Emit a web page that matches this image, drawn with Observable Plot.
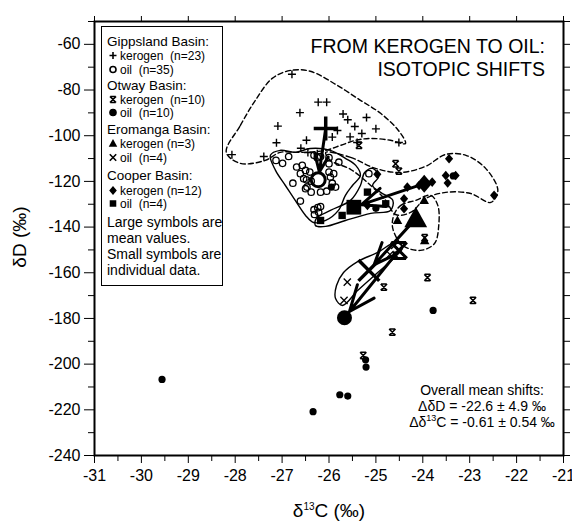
<!DOCTYPE html>
<html><head><meta charset="utf-8">
<script src="https://cdn.jsdelivr.net/npm/d3@7"></script>
<script src="https://cdn.jsdelivr.net/npm/@observablehq/plot@0.6"></script>
<style>
html,body{margin:0;padding:0;background:#fff;}
#wrap{position:relative;width:572px;height:532px;font-family:"Liberation Sans",Arial,sans-serif;color:#000;}
#wrap svg{display:block;}
.abs{position:absolute;white-space:nowrap;}
#legend{position:absolute;left:101px;top:26px;width:122px;height:260px;border:1.5px solid #000;box-sizing:border-box;background:#fff;}
#legend .ln{position:absolute;white-space:pre;transform:translateY(-50%);line-height:11px;height:11px;}
#legend .h{font-size:13.5px;left:5px;}
#legend .i{font-size:12px;left:6px;}
#legend .n{font-size:14px;left:5px;}
#legend svg{vertical-align:-1px;margin-right:2px;display:inline-block;}
</style></head><body>
<div id="wrap"></div>
<script>
// ---------- data: [δ13C, δD] ----------
const gippslandKerogen = [[-26.79,-73.1],[-26.23,-85.3],[-26.05,-85.3],[-26.62,-89.9],[-27.09,-95.8],[-27.12,-103.1],[-26.48,-102.0],[-28.07,-108.3],[-27.39,-109.1],[-25.82,-97.7],[-25.93,-100.6],[-26.45,-107.4],[-26.25,-107.9],[-24.51,-103.0],[-25.6,-93],[-25.45,-96],[-25.3,-99],[-25.55,-100.5],[-25.2,-92],[-25.0,-97],[-25.7,-90.5],[-25.4,-103],[-26.6,-105.5]];
const gippslandOil = [[-27.13,-110.8],[-26.86,-109.1],[-26.25,-109.6],[-26.00,-109.6],[-26.00,-112.3],[-26.69,-113.7],[-26.61,-116.6],[-26.50,-115.2],[-26.41,-115.9],[-26.48,-119.3],[-26.38,-119.9],[-26.77,-120.8],[-26.00,-115.9],[-25.93,-120.8],[-26.50,-123.2],[-26.38,-124.7],[-26.18,-124.7],[-26.05,-124.3],[-26.61,-128.6],[-26.32,-132.4],[-26.24,-131.5],[-26.18,-131.0],[-26.31,-134.5],[-25.86,-122.5],[-25.79,-111.6],[-26.32,-108.6],[-26.57,-113.0],[-25.90,-116.6],[-26.47,-122.5],[-25.15,-116.6],[-26.22,-133.5],[-26.54,-118.8],[-26.99,-112.1],[-25.97,-118.1],[-26.18,-109.1]];
const otwayKerogen = [[-25.36,-104.2],[-24.58,-112.3],[-24.51,-115.5],[-23.96,-144.7],[-24.83,-166.3],[-24.65,-186.0],[-25.27,-196.2],[-23.90,-162.1],[-22.93,-172.1],[-24.58,-152.4]];
const otwayOil = [[-29.56,-206.7],[-26.34,-220.8],[-25.77,-213.4],[-25.60,-214.0],[-25.22,-198.1],[-25.21,-201.3],[-23.78,-176.5],[-25.95,-122.5],[-25.0,-131.8],[-23.35,-117.6]];
const eromangaKerogen = [[-24.54,-137.1],[-23.97,-128.3],[-23.96,-145.9]];
const eromangaOil = [[-25.61,-164.1],[-25.68,-172.1],[-24.6,-148],[-24.7,-152]];
const cooperKerogen = [[-24.97,-116.9],[-23.44,-110.1],[-23.51,-117.4],[-23.30,-117.4],[-23.47,-120.7],[-22.48,-126.1],[-24.40,-127.6],[-24.40,-132.0],[-24.33,-122.5],[-23.80,-120.3],[-24.08,-121.8],[-25.18,-130.5]];
const cooperOil = [[-25.18,-124.7],[-24.79,-129.8],[-25.72,-134.9],[-26.18,-137.1]];

// mean values (large symbols)
const basins = ["Gippsland","Otway","Eromanga","Cooper"];
const meanKerogen = [[-26.07,-96.8],[-24.51,-150.2],[-24.15,-136.3],[-23.97,-121.0]];
const meanOil = [[-26.23,-119.3],[-25.67,-179.7],[-25.15,-159.0],[-25.47,-131.3]];

// outlines (dashed = kerogen, solid = oil)
const gippslandKerogenEnvelope = [[-28.19,-107.3],[-27.89,-95.5],[-27.57,-84.5],[-27.21,-74.9],[-26.82,-71.4],[-26.40,-71.8],[-25.86,-77.5],[-25.33,-84.5],[-24.90,-90.2],[-24.52,-97.7],[-24.37,-103.4],[-24.69,-102.0],[-25.11,-101.2],[-25.43,-102.0],[-25.75,-104.2],[-26.07,-106.4],[-26.61,-107.3],[-27.04,-107.3],[-27.36,-110.8],[-27.89,-112.1]];
const gippslandOilEnvelope = [[-27.25,-108.6],[-27.04,-106.4],[-26.72,-107.3],[-26.40,-105.6],[-25.97,-106.4],[-25.65,-109.9],[-25.43,-113.0],[-25.33,-117.4],[-25.50,-121.8],[-25.65,-126.1],[-25.80,-132.7],[-26.07,-137.1],[-26.33,-138.0],[-26.50,-134.9],[-26.72,-128.3],[-26.93,-121.8],[-27.14,-115.2]];
const cooperOilEnvelope = [[-26.27,-136.2],[-25.97,-132.7],[-25.54,-128.3],[-25.33,-121.8],[-25.24,-116.1],[-25.07,-114.3],[-24.94,-117.8],[-25.07,-121.8],[-24.90,-124.8],[-24.64,-128.3],[-24.69,-132.7],[-25.11,-134.0],[-25.65,-137.1],[-26.07,-139.7],[-26.29,-139.3]];
const cooperKerogenEnvelope = [[-26.07,-107.3],[-25.54,-109.5],[-25.01,-114.3],[-24.47,-116.1],[-23.94,-113.4],[-23.51,-108.2],[-23.08,-108.6],[-22.66,-114.3],[-22.40,-124.0],[-22.55,-129.2],[-22.98,-125.3],[-23.51,-124.8],[-23.94,-127.5],[-24.26,-133.6],[-24.58,-134.5],[-24.79,-128.3],[-25.11,-121.8],[-25.54,-114.7],[-25.97,-110.8]];
const eromangaKerogenEnvelope = [[-24.62,-134.9],[-24.47,-130.5],[-24.15,-128.3],[-23.83,-126.1],[-23.68,-130.5],[-23.66,-139.3],[-23.75,-147.2],[-24.05,-150.2],[-24.43,-148.0],[-24.64,-140.6]];
const eromangaOilEnvelope = [[-25.84,-165.6],[-25.69,-159.9],[-25.39,-155.1],[-24.96,-151.1],[-24.58,-146.7],[-24.43,-148.9],[-24.60,-153.3],[-24.96,-159.9],[-25.39,-167.8],[-25.71,-174.3],[-25.86,-171.3]];

// ticks
const yMajor = d3.range(-240, -59, 20);
const yMinor = d3.range(-230, -49, 20);
const xMajor = d3.range(-31, -20, 1);
const xMinor = d3.range(-30.5, -21, 1);

// legend text
const legendLines = [
  ["h","Gippsland Basin:",null],["i","kerogen  (n=23)","plus"],["i","oil  (n=35)","ocircle"],
  ["h","Otway Basin:",null],["i","kerogen  (n=10)","zhe"],["i","oil  (n=10)","dot"],
  ["h","Eromanga Basin:",null],["i","kerogen (n=3)","tri"],["i","oil  (n=4)","times"],
  ["h","Cooper Basin:",null],["i","kerogen (n=12)","diam"],["i","oil  (n=4)","square"],
  ["n","Large symbols are",null],["n","mean values.",null],["n","Small symbols are",null],["n","individual data.",null]
];
const legendY = [14,29,43,58,73,86,102,117,131,148,164,177,195,211,227,243];

// ---------- symbols (r = half-width) ----------
const R = s => Math.sqrt(s / Math.PI);
const SYM = {
  plus: {draw(c,s){const r=R(s);c.moveTo(-r,0);c.lineTo(r,0);c.moveTo(0,-r);c.lineTo(0,r);}},
  times:{draw(c,s){const r=R(s)*0.8;c.moveTo(-r,-r);c.lineTo(r,r);c.moveTo(r,-r);c.lineTo(-r,r);}},
  zhe:  {draw(c,s){const r=R(s)*0.8;c.moveTo(-r,-r);c.lineTo(r,r);c.moveTo(r,-r);c.lineTo(-r,r);c.moveTo(-r*0.9,-r);c.lineTo(r*0.9,-r);c.moveTo(-r*0.9,r);c.lineTo(r*0.9,r);}},
  tri:  {draw(c,s){const r=R(s);c.moveTo(0,-r);c.lineTo(r*0.95,r*0.72);c.lineTo(-r*0.95,r*0.72);c.closePath();}},
  diam: {draw(c,s){const r=R(s);c.moveTo(0,-r);c.lineTo(r*0.85,0);c.lineTo(0,r);c.lineTo(-r*0.85,0);c.closePath();}},
  square:{draw(c,s){const r=R(s)*0.82;c.moveTo(-r,-r);c.lineTo(r,-r);c.lineTo(r,r);c.lineTo(-r,r);c.closePath();}},
  circ: {draw(c,s){const r=R(s);c.moveTo(r,0);c.arc(0,0,r,0,2*Math.PI);}}
};

const X = d => d[0], Y = d => d[1];
const strokeDot = (data, sym, r, w) => Plot.dot(data, {x:X, y:Y, symbol:SYM[sym], r, stroke:"#000", strokeWidth:w, fill:"none"});
const fillDot = (data, sym, r) => Plot.dot(data, {x:X, y:Y, symbol:SYM[sym], r, fill:"#000", stroke:"none"});
const env = (data, dashed) => Plot.line(data, {x:X, y:Y, curve:"catmull-rom-closed", stroke:"#000", strokeWidth:1.4, strokeDasharray: dashed ? "5,3" : null});

const shifts = basins.map((b,i) => ({basin:b, k13:meanKerogen[i][0], kD:meanKerogen[i][1], o13:meanOil[i][0], oD:meanOil[i][1]}));
const mk = i => [meanKerogen[i]], mo = i => [meanOil[i]];

const plot = Plot.plot({
  width: 572, height: 532,
  marginLeft: 94, marginRight: 9, marginTop: 21, marginBottom: 77,
  x: {domain: [-31, -21]},
  y: {domain: [-240, -50]},
  style: {fontFamily: "'Liberation Sans', Arial, sans-serif", fontSize: "16px", color: "#000", background: "#fff"},
  marks: [
    env(gippslandKerogenEnvelope, true),
    env(cooperKerogenEnvelope, true),
    env(eromangaKerogenEnvelope, true),
    env(gippslandOilEnvelope, false),
    env(cooperOilEnvelope, false),
    env(eromangaOilEnvelope, false),
    strokeDot(gippslandKerogen, "plus", 4, 1.4),
    strokeDot(gippslandOil, "circ", 3.2, 1.3),
    strokeDot(otwayKerogen, "zhe", 4, 1.5),
    fillDot(otwayOil, "circ", 3.6),
    fillDot(eromangaKerogen, "tri", 5),
    strokeDot(eromangaOil, "times", 4.5, 1.3),
    fillDot(cooperKerogen, "diam", 4.8),
    fillDot(cooperOil, "square", 4.5),
    Plot.arrow(shifts, {x1:"k13", y1:"kD", x2:"o13", y2:"oD", stroke:"#000", strokeWidth:3, headLength:14, headAngle:45, insetEnd:8}),
    strokeDot(mk(0), "plus", 12, 3.5),
    strokeDot(mo(0), "circ", 7, 3),
    strokeDot(mk(1), "zhe", 10, 3),
    fillDot(mo(1), "circ", 7.5),
    fillDot(mk(2), "tri", 12),
    strokeDot(mo(2), "times", 13, 3.5),
    fillDot(mk(3), "diam", 9),
    fillDot(mo(3), "square", 9),
    Plot.axisY({ticks: yMajor, tickSize: 10, tickPadding: 4, tickFormat: d => String(d), label: null, fontSize: 16}),
    Plot.axisY({ticks: yMinor, tickSize: 6, fill: "none", label: null}),
    Plot.axisY({anchor: "right", ticks: yMajor.concat(yMinor), tickSize: 6, fill: "none", label: null}),
    Plot.axisX({ticks: xMajor, tickSize: 8, tickPadding: 6, tickFormat: d => String(d), label: null, fontSize: 16}),
    Plot.axisX({ticks: xMinor, tickSize: 6, fill: "none", label: null}),
    Plot.axisX({anchor: "top", ticks: xMajor, tickSize: 6, fill: "none", label: null}),
    Plot.frame({stroke: "#000", strokeWidth: 2})
  ]
});

const wrap = document.getElementById("wrap");
wrap.appendChild(plot);

function symSvg(name, px) {
  const kind = {plus:["plus","s"],ocircle:["circ","s"],zhe:["zhe","s"],dot:["circ","f"],tri:["tri","f"],times:["times","s"],diam:["diam","f"],square:["square","f"]}[name];
  const r = {plus:3.5,ocircle:3,zhe:3.8,dot:3.8,tri:4.5,times:4,diam:4.5,square:4}[name];
  const p = d3.path();
  SYM[kind[0]].draw(p, Math.PI*r*r);
  const st = kind[1]==="s" ? `fill="none" stroke="#000" stroke-width="1.6"` : `fill="#000"`;
  return `<svg width="${px}" height="${px}" viewBox="${-px/2} ${-px/2} ${px} ${px}"><path d="${p}" ${st}/></svg>`;
}

const lg = document.createElement("div");
lg.id = "legend";
lg.innerHTML = legendLines.map((l,i) => `<div class="ln ${l[0]}" style="top:${legendY[i]}px">${l[2] ? symSvg(l[2],10) : ""}${l[1]}</div>`).join("");
wrap.appendChild(lg);

function addText(html, css) {
  const d = document.createElement("div");
  d.className = "abs";
  d.innerHTML = html;
  Object.assign(d.style, css);
  wrap.appendChild(d);
}
addText("FROM KEROGEN TO OIL:", {right:"27px", top:"35px", fontSize:"19.5px", textAlign:"right"});
addText("ISOTOPIC SHIFTS", {right:"27px", top:"58px", fontSize:"19.5px", textAlign:"right"});
addText("Overall mean shifts:<br>&Delta;&delta;D = -22.6 &plusmn; 4.9 &permil;<br>&Delta;&delta;<sup style='font-size:9px;line-height:0'>13</sup>C = -0.61 &plusmn; 0.54 &permil;",
  {left:"407px", top:"382px", width:"150px", fontSize:"14px", lineHeight:"16px", textAlign:"center"});
addText("&delta;<sup style='font-size:10px'>13</sup>C (&permil;)", {left:"279px", top:"500px", width:"100px", textAlign:"center", fontSize:"19px"});
addText("&delta;D (&permil;)", {left:"-30px", top:"226px", width:"100px", textAlign:"center", fontSize:"19px", transform:"rotate(-90deg)"});
</script></body></html>
